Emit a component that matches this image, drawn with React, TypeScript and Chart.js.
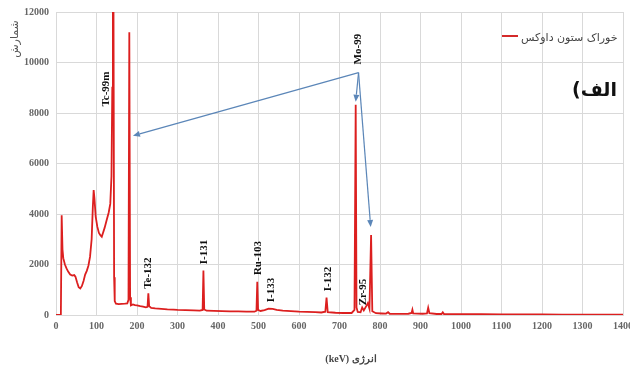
import React, { useEffect, useRef } from "react";
import { Chart, registerables } from "chart.js";

Chart.register(...registerables);

// Spectrum (energy in keV, counts)
const energies = [
  0, 8, 12, 14, 16, 18, 22, 26, 30, 35, 40, 45, 48, 52, 56, 60, 64, 68, 72, 76, 80, 84, 88, 91, 93, 95, 98,
  102, 106, 110, 113, 116, 120, 125, 130, 134, 137, 139, 140.5, 142, 143.5, 145, 148, 155, 162, 170, 176, 179,
  181, 183, 185, 190, 195, 200, 208, 215, 222, 226, 228, 230, 235, 245, 260, 275, 290, 300, 320, 340, 355, 362,
  364, 366, 372, 390, 410, 430, 450, 470, 490, 495, 497, 499, 505, 515, 525, 535, 545, 560, 580, 600, 620, 640,
  655, 665, 668, 671, 690, 710, 730, 737, 740, 742, 745, 752, 756, 760, 766, 770, 774, 778, 781, 790, 805, 815,
  820, 824, 850, 870, 878, 880, 882, 905, 916, 919, 922, 940, 952, 955, 958, 1000, 1050, 1100, 1150, 1200, 1250,
  1300, 1350, 1400,
];
const counts = [
  0, 0, 0, 3950, 2600, 2250, 2000, 1850, 1720, 1600, 1560, 1580, 1520, 1300, 1100, 1050, 1150, 1350, 1600, 1750,
  1950, 2300, 3000, 4300, 4950, 4600, 3900, 3500, 3250, 3150, 3100, 3250, 3450, 3750, 4050, 4400, 5500, 9000,
  30000, 12000, 1500, 550, 450, 430, 440, 450, 460, 600, 11200, 700, 380, 420, 390, 380, 350, 330, 300, 320, 860,
  350, 280, 260, 240, 220, 210, 200, 190, 180, 170, 200, 1760, 220, 170, 160, 150, 145, 140, 130, 130, 170, 1320,
  200, 160, 190, 250, 240, 200, 170, 150, 130, 120, 110, 100, 130, 690, 110, 90, 80, 80, 200, 8330, 300, 120, 110,
  300, 180, 350, 470, 250, 3170, 150, 70, 60, 55, 110, 50, 45, 50, 80, 210, 60, 50, 60, 290, 70, 40, 40, 110, 40,
  35, 30, 25, 20, 20, 15, 15, 10, 10,
];

// Peak annotations
const peakNames = ["Tc-99m", "Te-132", "I-131", "Ru-103", "I-133", "I-132", "Zr-95", "Mo-99"];
const peakLabelEnergies = [123, 227, 365, 499, 531, 672, 758, 746];
const peakLabelCounts = [8950, 1660, 2495, 2257, 990, 1425, 910, 10530];

// Arrows from Mo-99 label to its peaks
const arrowOrigin = [747, 9600];
const arrowTargetEnergies = [190, 740, 777];
const arrowTargetCounts = [7100, 8450, 3490];

const seriesLabel = "خوراک ستون داوکس";
const panelLabel = "الف)";
const yTitle = "شمارش";
const xTitle = "(keV) انرژی";

const xMin = 0, xMax = 1400, xStep = 100;
const yMin = 0, yMax = 12000, yStep = 2000;

const overlay = {
  id: "overlay",
  afterDraw(chart: any) {
    const ctx = chart.ctx as CanvasRenderingContext2D;
    const xs = chart.scales.x;
    const ys = chart.scales.y;
    ctx.save();

    // arrows
    const ox = xs.getPixelForValue(arrowOrigin[0]);
    const oy = ys.getPixelForValue(arrowOrigin[1]);
    ctx.strokeStyle = "#5b86b8";
    ctx.fillStyle = "#5b86b8";
    ctx.lineWidth = 1.2;
    arrowTargetEnergies.forEach((e, i) => {
      const tx = xs.getPixelForValue(e);
      const ty = ys.getPixelForValue(arrowTargetCounts[i]);
      const ang = Math.atan2(ty - oy, tx - ox);
      const hl = 7, hw = 3;
      const bx = tx - hl * Math.cos(ang);
      const by = ty - hl * Math.sin(ang);
      ctx.beginPath();
      ctx.moveTo(ox, oy);
      ctx.lineTo(bx, by);
      ctx.stroke();
      ctx.beginPath();
      ctx.moveTo(tx, ty);
      ctx.lineTo(bx + hw * Math.sin(ang), by - hw * Math.cos(ang));
      ctx.lineTo(bx - hw * Math.sin(ang), by + hw * Math.cos(ang));
      ctx.closePath();
      ctx.fill();
    });

    // peak labels
    ctx.fillStyle = "#111";
    ctx.font = "bold 11px 'Liberation Serif', serif";
    ctx.textAlign = "center";
    ctx.textBaseline = "middle";
    peakNames.forEach((n, i) => {
      const px = xs.getPixelForValue(peakLabelEnergies[i]);
      const py = ys.getPixelForValue(peakLabelCounts[i]);
      ctx.save();
      ctx.translate(px, py);
      ctx.rotate(-Math.PI / 2);
      ctx.fillText(n, 0, 0);
      ctx.restore();
    });

    // legend
    ctx.strokeStyle = "#d42a2a";
    ctx.lineWidth = 2;
    ctx.beginPath();
    ctx.moveTo(502, 36);
    ctx.lineTo(518, 36);
    ctx.stroke();
    ctx.fillStyle = "#444";
    ctx.font = "11px 'DejaVu Sans', sans-serif";
    ctx.textAlign = "left";
    ctx.fillText(seriesLabel, 521, 38);

    // panel label (right-to-left)
    ctx.save();
    ctx.direction = "rtl";
    ctx.fillStyle = "#111";
    ctx.font = "bold 19px 'DejaVu Sans', sans-serif";
    ctx.textAlign = "right";
    ctx.fillText(panelLabel, 617, 91);
    ctx.restore();

    // y title
    ctx.fillStyle = "#555";
    ctx.font = "11px 'DejaVu Sans', sans-serif";
    ctx.textAlign = "center";
    ctx.save();
    ctx.translate(15, 39);
    ctx.rotate(-Math.PI / 2);
    ctx.fillText(yTitle, 0, 0);
    ctx.restore();

    // x title
    ctx.fillStyle = "#444";
    ctx.font = "bold 10px 'Liberation Serif', serif";
    ctx.fillText(xTitle, 351, 359);

    ctx.restore();
  },
};

export default function App() {
  const ref = useRef<HTMLCanvasElement | null>(null);
  useEffect(() => {
    if (!ref.current) return;
    const data = energies.map((e, i) => ({ x: e, y: counts[i] }));
    const chart = new Chart(ref.current, {
      type: "line",
      data: {
        datasets: [
          {
            label: seriesLabel,
            data,
            borderColor: "#dc1f1f",
            borderWidth: 1.8,
            pointRadius: 0,
            tension: 0,
            fill: false,
          },
        ],
      },
      options: {
        animation: false,
        responsive: false,
        maintainAspectRatio: false,
        layout: { padding: { top: 12, right: 7, left: 0, bottom: 0 } },
        plugins: { legend: { display: false }, tooltip: { enabled: false } },
        scales: {
          x: {
            type: "linear",
            min: xMin,
            max: xMax,
            ticks: {
              stepSize: xStep,
              padding: 5,
              color: "#666",
              font: { family: "'Liberation Serif', serif", size: 10, weight: "bold" },
              callback: (v: any) => String(v),
            },
            grid: { color: "#d9d9d9", drawTicks: false },
            border: { color: "#d9d9d9" },
            afterFit: (s: any) => {
              s.height = 55;
              s.paddingLeft = 0;
              s.paddingRight = 0;
            },
          },
          y: {
            type: "linear",
            min: yMin,
            max: yMax,
            ticks: {
              stepSize: yStep,
              padding: 7,
              color: "#666",
              font: { family: "'Liberation Serif', serif", size: 10, weight: "bold" },
              callback: (v: any) => String(v),
            },
            grid: { color: "#d9d9d9", drawTicks: false },
            border: { color: "#d9d9d9" },
            afterFit: (s: any) => {
              s.width = 56;
              s.paddingTop = 0;
              s.paddingBottom = 0;
            },
          },
        },
      },
      plugins: [overlay],
    });
    return () => chart.destroy();
  }, []);
  return (
    <div style={{ position: "absolute", left: 0, top: 0, width: 630, height: 370, background: "#fff" }}>
      <canvas ref={ref} width={630} height={370} style={{ width: 630, height: 370 }} />
    </div>
  );
}
